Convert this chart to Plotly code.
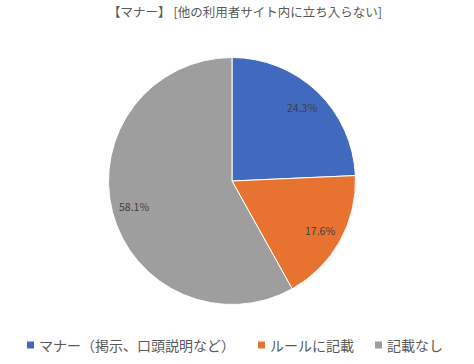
import math
import plotly.graph_objects as go

labels = ["マナー（掲示、口頭説明など）", "ルールに記載", "記載なし"]
values = [24.3, 17.6, 58.1]
colors = ["#4169BD", "#E87331", "#9E9E9E"]
title_text = "【マナー】 [他の利用者サイト内に立ち入らない]"

W, H = 474, 364
cx, cy, r = 232, 181, 123.5
FONT = "Noto Sans CJK JP"

fig = go.Figure(go.Pie(
    labels=labels,
    values=values,
    sort=False,
    direction="clockwise",
    rotation=0,
    marker=dict(colors=colors, line=dict(color="white", width=1)),
    textinfo="none",
    domain=dict(x=[(cx - r) / W, (cx + r) / W], y=[(H - cy - r) / H, (H - cy + r) / H]),
    hoverinfo="skip",
    showlegend=False,
))

# percentage labels placed along each slice's mid-angle
total = sum(values)
cum = 0.0
for v in values:
    mid = (cum + v / 2) / total * 2 * math.pi
    cum += v
    px = cx + 0.82 * r * math.sin(mid)
    py = cy - 0.82 * r * math.cos(mid)
    fig.add_annotation(x=px / W, y=1 - py / H, xref="paper", yref="paper",
                       xanchor="center", yanchor="middle",
                       text=f"{v:.1f}%", showarrow=False,
                       font=dict(size=10.5, color="#404040", family=FONT))

# legend drawn as small squares + text
leg_marker_x = [27, 258, 375]
leg_y = 345
for lab, col, mx in zip(labels, colors, leg_marker_x):
    fig.add_shape(type="rect", xref="paper", yref="paper",
                  x0=mx / W, x1=(mx + 7) / W,
                  y0=1 - (leg_y + 3.5) / H, y1=1 - (leg_y - 3.5) / H,
                  fillcolor=col, line=dict(width=0))
    fig.add_annotation(x=(mx + 10) / W, y=1 - leg_y / H, xref="paper", yref="paper",
                       xanchor="left", yanchor="middle", text=lab, showarrow=False,
                       font=dict(size=14, color="#595959", family=FONT))

fig.update_layout(
    width=W, height=H,
    margin=dict(l=0, r=0, t=0, b=0),
    paper_bgcolor="white",
    font=dict(family=FONT, color="#595959"),
    title=dict(text=title_text, x=245 / W, xanchor="center", y=1 - 13 / H, yanchor="middle",
               font=dict(size=12.5, color="#595959")),
    showlegend=False,
)

fig.write_html("out.html", config={"displayModeBar": False},
               post_script="document.body.style.margin='0';")
